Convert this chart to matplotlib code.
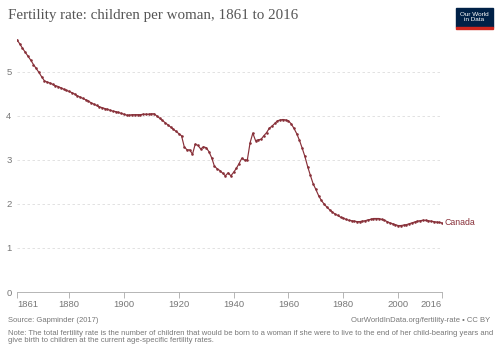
import matplotlib
matplotlib.use("Agg")
from matplotlib import pyplot as plt
from matplotlib.patches import Rectangle

years = list(range(1861, 2017))
canada = [
    5.73, 5.64, 5.54, 5.45, 5.36, 5.27, 5.17, 5.08, 4.99, 4.89,  # 1861-1870
    4.80, 4.77, 4.75, 4.72, 4.69, 4.67, 4.64, 4.61, 4.58, 4.56,  # 1871-1880
    4.53, 4.50, 4.46, 4.43, 4.40, 4.37, 4.34, 4.30, 4.27, 4.24,  # 1881-1890
    4.21, 4.19, 4.17, 4.15, 4.13, 4.11, 4.10, 4.08, 4.06, 4.04,  # 1891-1900
    4.02, 4.02, 4.03, 4.03, 4.03, 4.03, 4.04, 4.04, 4.04, 4.05,  # 1901-1910
    4.05, 4.00, 3.95, 3.90, 3.85, 3.80, 3.75, 3.70, 3.65, 3.60,  # 1911-1920
    3.55, 3.30, 3.23, 3.23, 3.13, 3.36, 3.33, 3.25, 3.30, 3.28,  # 1921-1930
    3.19, 3.05, 2.86, 2.80, 2.76, 2.70, 2.64, 2.71, 2.64, 2.72,  # 1931-1940
    2.81, 2.92, 3.04, 3.00, 3.00, 3.39, 3.61, 3.44, 3.46, 3.47,  # 1941-1950
    3.55, 3.62, 3.72, 3.77, 3.83, 3.89, 3.91, 3.92, 3.91, 3.89,  # 1951-1960
    3.82, 3.72, 3.60, 3.45, 3.27, 3.08, 2.85, 2.65, 2.46, 2.33,  # 1961-1970
    2.19, 2.08, 2.00, 1.93, 1.87, 1.82, 1.77, 1.74, 1.70, 1.68,  # 1971-1980
    1.65, 1.63, 1.62, 1.61, 1.60, 1.60, 1.61, 1.62, 1.64, 1.65,  # 1981-1990
    1.67, 1.67, 1.67, 1.65, 1.63, 1.60, 1.57, 1.55, 1.53, 1.51,  # 1991-2000
    1.51, 1.52, 1.53, 1.55, 1.57, 1.59, 1.61, 1.62, 1.63, 1.63,  # 2001-2010
    1.62, 1.61, 1.60, 1.59, 1.58, 1.57,                          # 2011-2016
]
xticks = [1861, 1880, 1900, 1920, 1940, 1960, 1980, 2000, 2016]
yticks = [0, 1, 2, 3, 4, 5]

line_col = "#883039"
grey = "#777777"

plt.rcParams["font.family"] = ["Liberation Sans", "DejaVu Sans"]

fig = plt.figure(figsize=(5, 3.53), dpi=100)
ax = fig.add_axes([0.034, 0.1728, 0.85, 0.728])

ax.plot(years, canada, color=line_col, lw=0.85, marker="o", ms=0.85,
        mec=line_col, mfc=line_col)
ax.text(2016 + 0.8, canada[-1], "Canada", color=line_col, fontsize=6.3,
        va="center", ha="left")

ax.set_xlim(1861, 2016)
ax.set_ylim(0, 5.84)
ax.set_xticks(xticks)
ax.set_yticks(yticks)
ax.tick_params(axis="x", length=4, width=0.6, color="#aaaaaa", labelsize=6.8,
               labelcolor=grey, pad=2)
ax.tick_params(axis="y", length=0, labelsize=6.8, labelcolor=grey, pad=4)
labs = ax.get_xticklabels()
labs[0].set_ha("left")
labs[-1].set_ha("right")
for s in ["top", "right", "left"]:
    ax.spines[s].set_visible(False)
ax.spines["bottom"].set_color("#aaaaaa")
ax.spines["bottom"].set_linewidth(0.6)
for t in yticks[1:]:
    ax.axhline(t, color="#dddddd", lw=0.6, ls=(0, (3, 3)), zorder=0)

fig.text(0.016, 0.955, "Fertility rate: children per woman, 1861 to 2016",
         family=["Liberation Serif", "DejaVu Serif"], fontsize=10.8,
         color="#555555", va="center")

# logo
fig.patches.append(Rectangle((0.911, 0.924), 0.074, 0.054, transform=fig.transFigure,
                             color="#002147", zorder=3))
fig.patches.append(Rectangle((0.911, 0.917), 0.074, 0.007, transform=fig.transFigure,
                             color="#ce261e", zorder=3))
fig.text(0.948, 0.951, "Our World\nin Data", color="white", fontsize=4.6,
         ha="center", va="center", linespacing=0.95, zorder=4)

fig.text(0.016, 0.088, "Source: Gapminder (2017)", fontsize=5.5, color=grey)
fig.text(0.98, 0.088, "OurWorldInData.org/fertility-rate • CC BY", fontsize=5.5,
         color=grey, ha="right")
fig.text(0.016, 0.030,
         "Note: The total fertility rate is the number of children that would be born to a woman if she were to live to the end of her child-bearing years and\n"
         "give birth to children at the current age-specific fertility rates.",
         fontsize=5.5, color=grey, linespacing=1.15)

fig.savefig("out.png", dpi=100)
